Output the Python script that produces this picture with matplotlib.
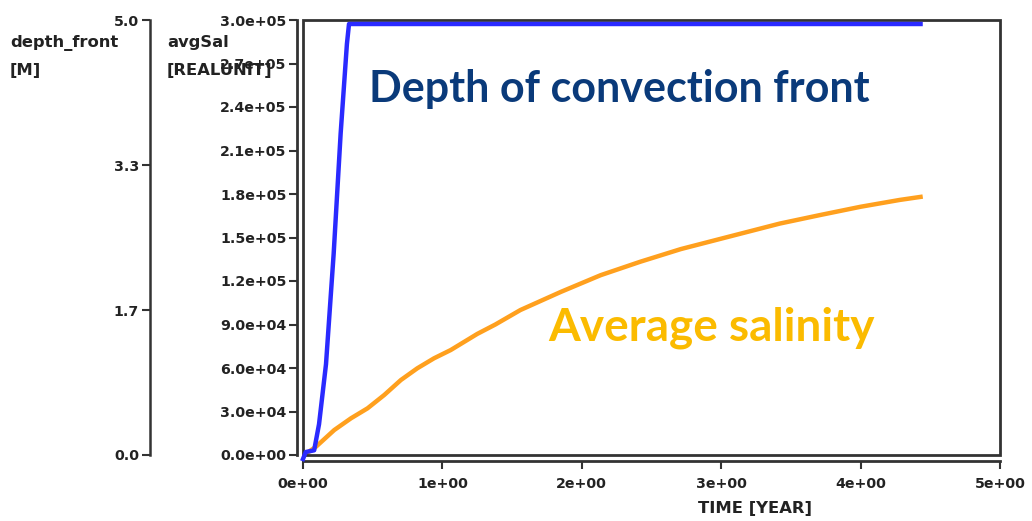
import matplotlib.pyplot as plt
import matplotlib.transforms as mtransforms
from matplotlib.patches import Rectangle
import numpy as np

# depth of the convection front [M] over time [YEAR]
t_depth = [0.0, 0.02, 0.08, 0.115, 0.165, 0.22, 0.27, 0.315, 0.33, 4.43]
depth_front = [0.0, 0.08, 0.10, 0.40, 1.09, 2.36, 3.74, 4.77, 5.0, 5.0]

# average salinity [REALUNIT] over time [YEAR]
t_sal = [0.0, 0.03, 0.093, 0.224, 0.344, 0.463, 0.583, 0.702, 0.82, 0.94,
         1.06, 1.25, 1.38, 1.56, 1.85, 2.135, 2.42, 2.71, 3.0, 3.42,
         3.71, 4.0, 4.28, 4.43]
avg_sal = [0, 1.5e3, 5.7e3, 17.2e3, 25.3e3, 32.2e3, 41.4e3, 51.7e3, 59.8e3, 66.7e3,
           72.4e3, 83.5e3, 90e3, 100e3, 112.5e3, 124e3, 133.3e3, 142e3, 149.2e3, 159.6e3,
           165.5e3, 171.2e3, 175.9e3, 178e3]

x_ticks = [0, 1, 2, 3, 4, 5]
sal_ticks = np.arange(0, 3.0e5 + 1, 3.0e4)
depth_ticks = [0, 5 / 3, 10 / 3, 5]

plt.rcParams['font.family'] = ['DejaVu Sans']
tick_font = dict(fontsize=10.2, fontweight='bold', color='#222222')
label_font = dict(fontsize=11.8, fontweight='bold', color='#222222')
edge = '#333333'

fig = plt.figure(figsize=(10.32, 5.21), dpi=100)
ax = fig.add_axes([303 / 1032, 1 - 455 / 521, 697 / 1032, 435 / 521])

# axis lines sit just outside the plot frame
for side in ['left', 'bottom']:
    ax.spines[side].set_position(('outward', 4))
    ax.spines[side].set_color(edge)
    ax.spines[side].set_linewidth(2)
for side in ['top', 'right']:
    ax.spines[side].set_visible(False)
ax.add_patch(Rectangle((0, 0), 1, 1, transform=ax.transAxes, fill=False,
                       edgecolor=edge, lw=2, clip_on=False, zorder=5))

ax.plot(t_sal, avg_sal, color='#ffa01e', lw=3.2, zorder=3)
ax.set_xlim(0, 5)
ax.set_ylim(0, 3.0e5)
ax.set_xticks(x_ticks)
ax.set_xticklabels([f"{v:.0e}" for v in x_ticks], **tick_font)
ax.set_yticks(sal_ticks)
ax.set_yticklabels([f"{v:.1e}" for v in sal_ticks], **tick_font)
ax.tick_params(direction='out', length=6, width=1.5, color=edge, pad=2)
ax.tick_params(axis='x', pad=6)

# second scale for the front depth, its spine pushed out to the left
ax2 = ax.twinx()
ax2.yaxis.tick_left()
ax2.spines['left'].set_position(('axes', (150 - 303) / 697))
ax2.spines['left'].set_color(edge)
ax2.spines['left'].set_linewidth(1.8)
for side in ['right', 'top', 'bottom']:
    ax2.spines[side].set_visible(False)
ax2.set_ylim(0, 5)
shifted = mtransforms.offset_copy(ax2.transData, fig=fig, x=0, y=-4, units='dots')
ax2.plot(t_depth, depth_front, color='#2a2aff', lw=3.2, zorder=4,
         transform=shifted, clip_on=False)
ax2.set_yticks(depth_ticks)
ax2.set_yticklabels([f"{v:.1f}" for v in depth_ticks], **tick_font)
ax2.tick_params(direction='out', length=6, width=1.5, color=edge, pad=2)

# axis titles
fig.text(10 / 1032, 1 - 43 / 521, "depth_front", ha='left', va='center', **label_font)
fig.text(10 / 1032, 1 - 71 / 521, "[M]", ha='left', va='center', **label_font)
fig.text(167 / 1032, 1 - 43 / 521, "avgSal", ha='left', va='center', **label_font)
fig.text(167 / 1032, 1 - 71 / 521, "[REALUNIT]", ha='left', va='center', **label_font)
fig.text(755 / 1032, 1 - 509 / 521, "TIME [YEAR]", ha='center', va='center', **label_font)

# callouts
ax.text(0.47, 2.434e5, "Depth of convection front", ha='left', va='baseline',
        fontsize=31, fontweight='bold', color='#0a3a7a', family=['Lato', 'DejaVu Sans'])
ax.text(1.76, 0.793e5, "Average salinity", ha='left', va='baseline',
        fontsize=33, fontweight='bold', color='#fbbb00', family=['Lato', 'DejaVu Sans'])

fig.savefig('out.png', dpi=100)
